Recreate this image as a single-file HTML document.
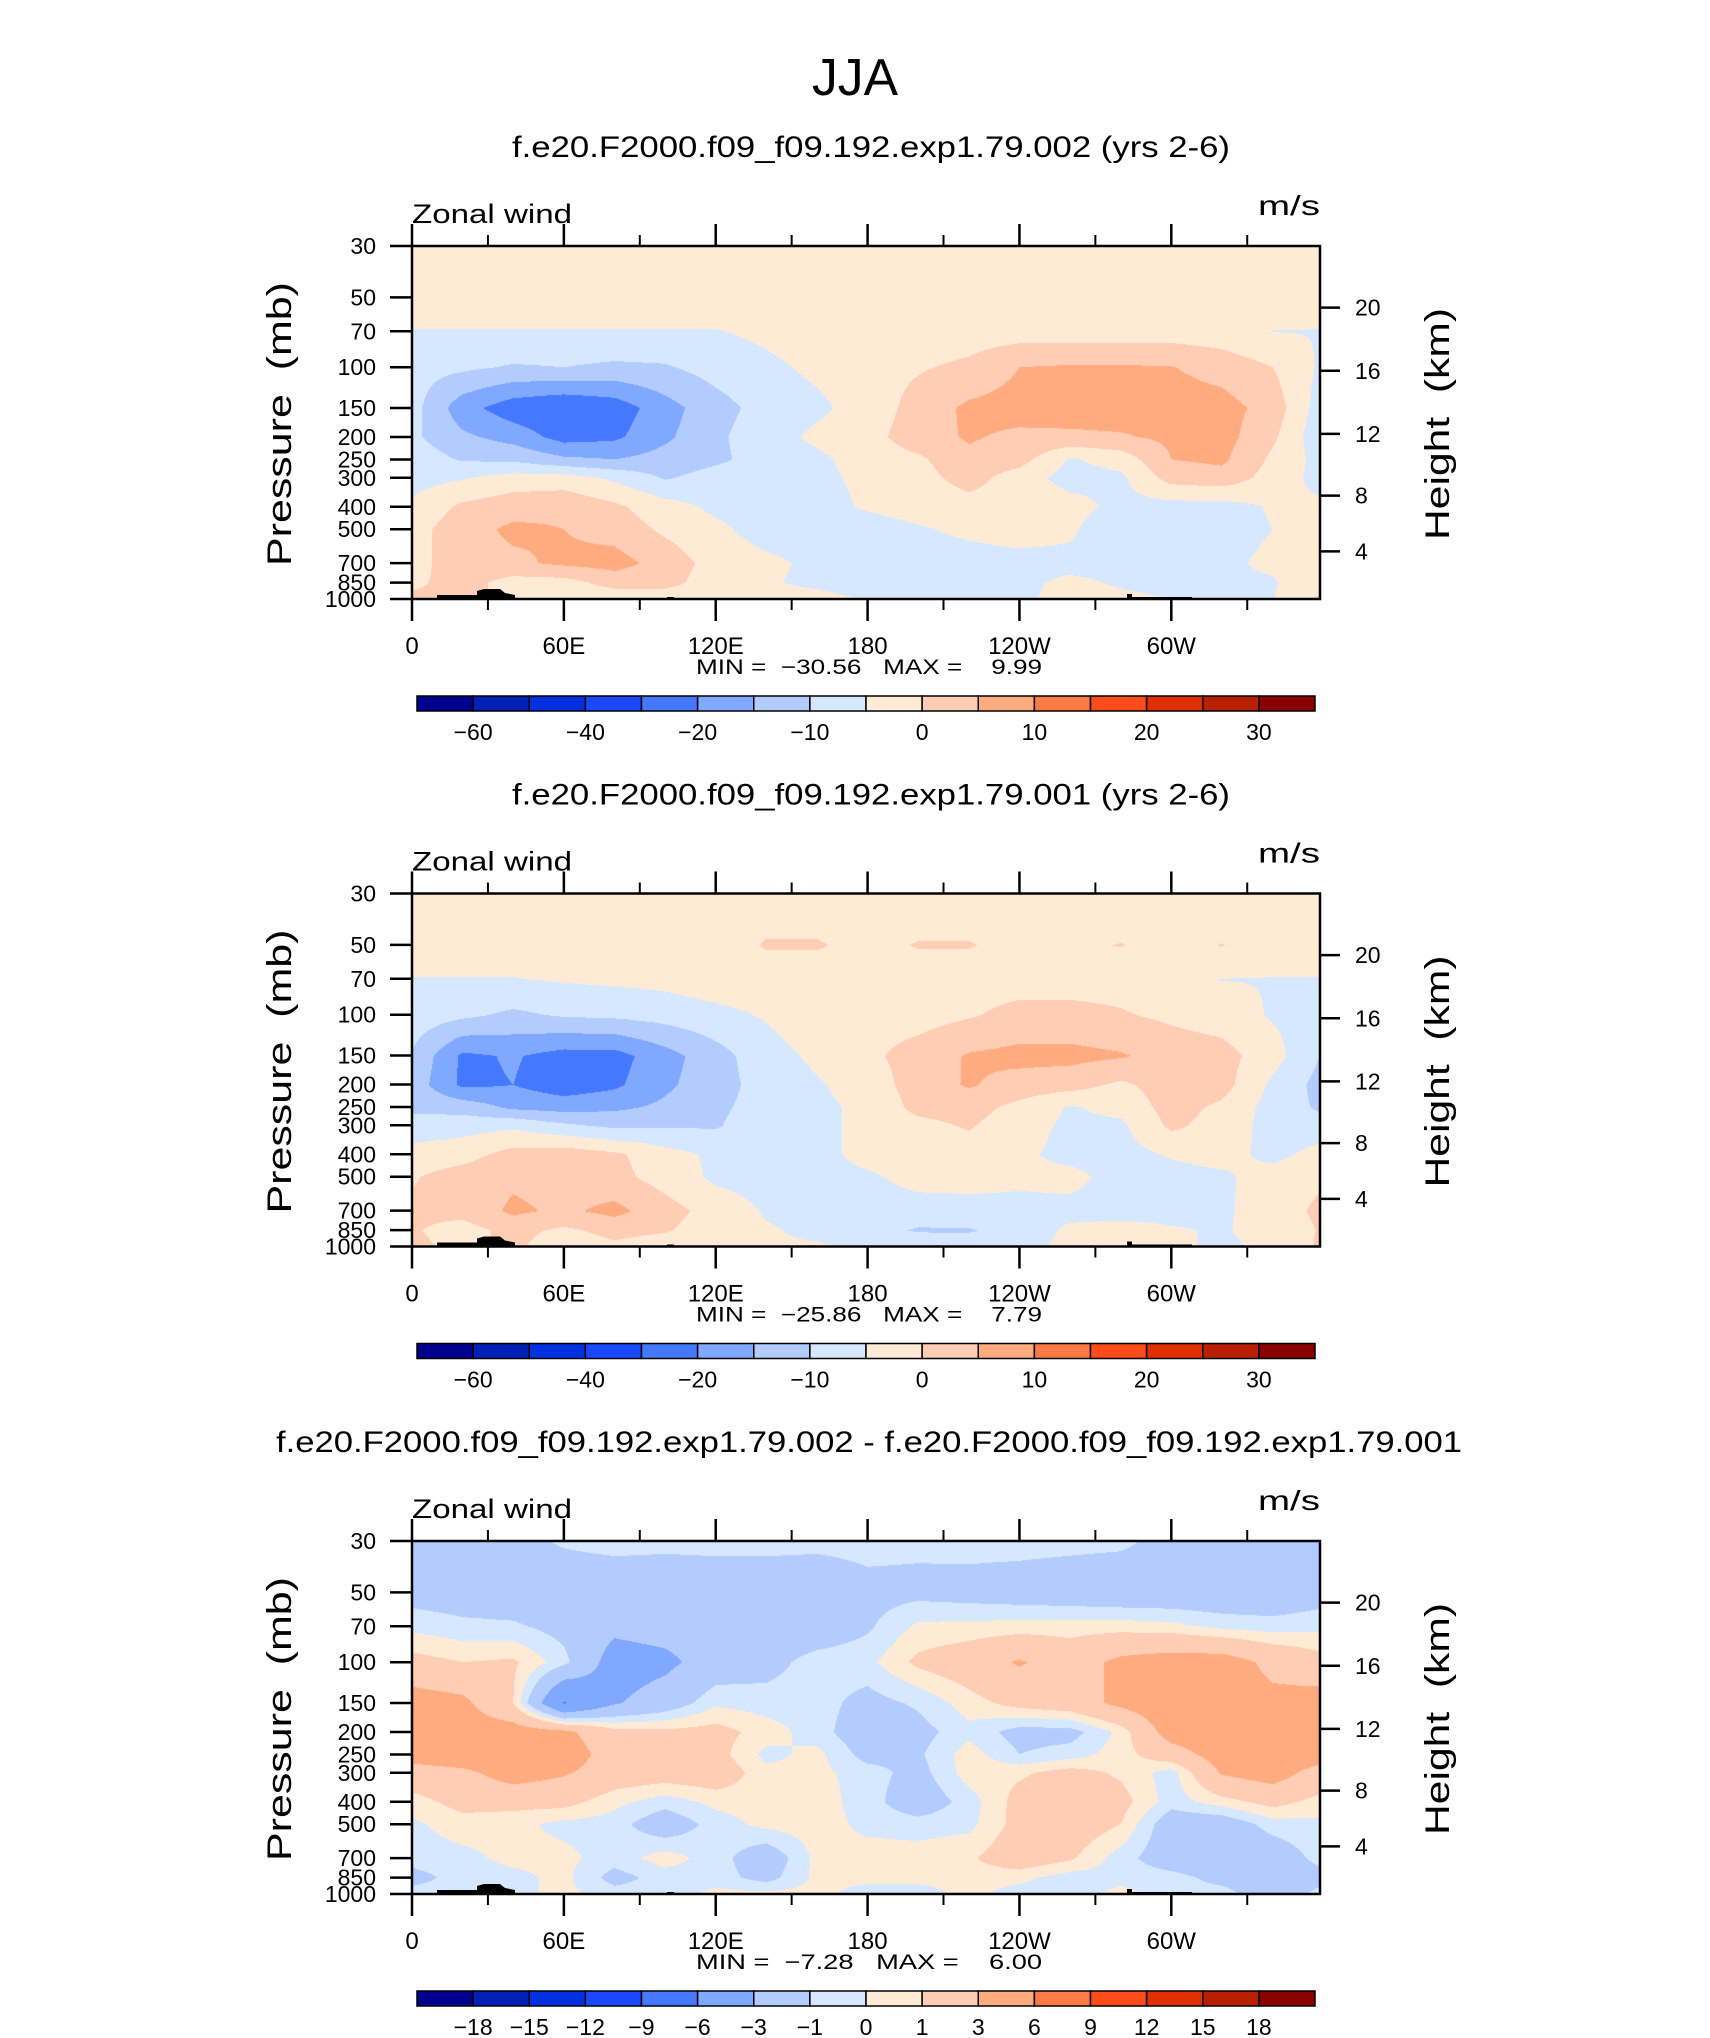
<!DOCTYPE html>
<html><head><meta charset="utf-8">
<style>
html,body{margin:0;padding:0;background:#fff;}
#root{position:relative;width:1710px;height:2038px;overflow:hidden;background:#fff;}
canvas{position:absolute;}
svg{position:absolute;left:0;top:0;}
text{font-family:"Liberation Sans",sans-serif;fill:#000;}
.pre{white-space:pre;}
</style></head>
<body>
<div id="root">
<canvas id="f0"></canvas>
<canvas id="f1"></canvas>
<canvas id="f2"></canvas>
<svg id="ov" width="1710" height="2038"></svg>
</div>
<script>
// ---- data ----
const gridLon = [0,20,40,60,80,100,120,140,160,180,200,220,240,260,280,300,320,340,360];
const pLevels = [30,50,70,100,150,200,250,300,400,500,700,850,1000];
const lonTickVals = [0,60,120,180,240,300];
const lonTickLabels = ['0','60E','120E','180','120W','60W'];
const lonMinorVals = [30,90,150,210,270,330];
const heightLabels = ['4','8','12','16','20'];
const heightPress = [622.8,357.9,194,103.6,55.3];
const colors = ['#00008f','#0020b8','#0030e0','#1a48ff','#4478ff','#80a8ff','#b3ccff','#d6e8ff','#ffead6','#ffcdb3','#ffab80','#ff7a45','#ff4c1a','#e03000','#b82000','#8b0000'];
const levelsAbs = [-60,-50,-40,-30,-20,-15,-10,-5,0,5,10,15,20,25,30];
const cbLabelsAbs = ['','−60','','−40','','−20','','−10','','0','','10','','20','','30'];
const levelsDiff = [-18,-15,-12,-9,-6,-3,-1,0,1,3,6,9,12,15,18];
const cbLabelsDiff = ['','−18','−15','−12','−9','−6','−3','−1','0','1','3','6','9','12','15','18'];
const titles = ['f.e20.F2000.f09_f09.192.exp1.79.002 (yrs 2-6)','f.e20.F2000.f09_f09.192.exp1.79.001 (yrs 2-6)','f.e20.F2000.f09_f09.192.exp1.79.002 - f.e20.F2000.f09_f09.192.exp1.79.001'];
const minVals = ['−30.56','−25.86','−7.28'];
const maxVals = ['9.99','7.79','6.00'];

const u1 = [
[-2,-2,-2,-2,-2,-2,-2,-2,-2,-2,-2,-2,-2,-2,-2,-2,-2,-2,-2],
[-2,-2,-2,-2,-2,-2,-2,-2,-2,-2,-2,-2,-2,-2,-2,-2,-2,-2,-2],
[-5.2,-5.2,-5.2,-5.2,-5.2,-5.2,-5.2,-4,-2.5,-2.5,-2.5,-2.5,-2.5,-2.5,-2.5,-2.5,-3,-5.1,-5.2],
[-8,-9,-10.5,-10,-11,-10.5,-8,-6,-4,-2,-0.5,1,5,5.5,5.5,5.2,3,0,-6],
[-8,-18,-23,-25,-23,-17,-12,-8,-6,-3,2,6,7,7.5,7.5,7.5,7,3,-8],
[-9,-14,-17,-22,-21,-16,-11,-7,-4,-2,3,5.5,4,4,4.5,6,7,1,-9],
[-7,-10.5,-11,-14,-15,-13,-11,-8,-6,-3,-1,4,2,-5.5,-3,5,6,-1,-7],
[-7,-5.5,-3,-3,-6,-10.5,-8,-7,-6,-4,-2,2,-2.5,-7,-6,2,3,-2,-7],
[-4,1,3,4,1,-3,-6,-7,-6.5,-4.5,-3,-2,-2,-3,-6.5,-7,-7,-4.5,-4],
[-2,3,6,5,3,-1,-4,-7,-7,-7,-5.5,-4,-3,-4,-9.5,-8.5,-7,-5,-2],
[-2,3,4,6,7,3,-2,-4,-6,-7,-7,-7,-6.5,-6.5,-7,-7,-6,-4,-2],
[-1,2,-2,-2,2,2,-3,-4.5,-6,-7.5,-9.8,-9.5,-6,-4,-5.5,-6.5,-6,-5.5,-1],
[1,1,-1,-3,-3.5,-3.5,-3.5,-3.5,-3.5,-5.2,-6,-6,-5.5,-4,-4,-5,-5.5,-5.2,1]
];
const u2 = [
[-2,-2,-2,-2,-2,-2,-2,-2,-2,-2,-2,-2,-2,-2,-2,-2,-2,-2,-2],
[-2,-2,-2,-2,-2,-2,-2,0.3,0.3,-1,0.2,0.2,-1,-0.5,0.1,-1,0.1,-2,-2],
[-5.2,-5.2,-5.2,-4.5,-4,-3.5,-2,-2,-2,-2,-2,-2,-2,-2,-2,-4,-5.1,-5.2,-5.2],
[-7,-9,-11,-9.5,-9,-8,-6.5,-4.5,-2,-2,-2,-0.5,1.5,1.5,0.5,-1,-2.5,-5.5,-7],
[-10.5,-21,-19.5,-22,-22,-17,-12,-7,-4,-1,2,5.5,6.5,6.5,5.5,3,2,-3,-10.5],
[-12,-21,-20,-23,-21,-16,-12,-8,-5.5,-3,2.5,5.5,3,2,-1,2.5,2,-6,-12],
[-11,-12,-16,-17,-16,-14,-11,-8,-6,-4,1.5,2,-1.5,-5.5,-3.5,2,-1,-7,-11],
[-8,-7,-6,-9,-11,-10.5,-10.5,-7,-6,-4,-1.5,0.5,-3,-6,-6,1,-2,-7,-8],
[-3,-2,2,3,1,-3,-6,-7,-7,-3,-2,-2.5,-4,-6.5,-7,-4.5,-3,-6.5,-3],
[-0.5,2.5,4,3,1.5,-2,-6,-7,-7,-6,-3,-3,-4,-3.5,-7,-7,-6,-2.5,-0.5],
[1,1.5,6,4,6.5,2,-2,-5.5,-7,-7.5,-7.5,-7,-6.5,-6.5,-7,-6.5,-6,-2,1],
[0.5,-2,1.5,-1,1.5,0.5,-3,-4.5,-6,-8,-10.5,-10.5,-8,-4,-3,-4.5,-5.5,-3,0.5],
[1,-1,1,-3,-1,-3,-4,-4.5,-4.5,-5.2,-6,-6.5,-6,-4,-1,-4,-6,-4,1]
];
const du = [
[-2,-2,-1.5,-0.8,-0.5,-0.6,-0.5,-0.5,-0.6,-0.5,-0.7,-0.5,-0.5,-0.6,-0.7,-1.5,-2,-2,-2],
[-1.6,-1.8,-2,-2.2,-2.2,-2.2,-2.2,-2.2,-2.2,-1.5,-1.4,-1.6,-1.8,-2,-2.2,-2.2,-2.2,-2.2,-1.6],
[-0.3,-0.7,-0.8,-1.5,-2.5,-2.2,-2,-2,-2,-1.2,0.2,0.3,0.4,0.5,0.5,0.3,-0.3,-0.5,-0.3],
[1.5,1,1.2,-0.6,-4,-3.5,-2,-1.5,-0.5,-0.3,1.3,2,3.2,2,3.5,4,4,2.5,1.5],
[4,3.5,1,-6.2,-3.2,-2,-0.2,-0.5,-0.5,-1.5,-0.8,0.5,1.5,2,3.5,4.5,4,3.5,4],
[4.5,4,4,3.5,1.5,1.3,1.5,0.5,-0.5,-2,-1.5,-0.3,-1.5,-1.5,0.3,4,4.5,4.5,4.5],
[4,4.5,4.5,4.2,2,2,1.5,-0.3,0.3,-1.5,-1.2,0.5,-1,-0.5,0.5,2,4,4.5,4],
[2,2.5,4,3.2,2,1.8,2,0.3,0.3,-0.5,-1.5,0.5,0.8,1.5,0.8,-0.5,3.2,4,2],
[0.5,1.5,1.5,1.5,0.3,-0.5,0.3,0.5,0.5,-0.5,-2,-0.5,1.5,2,1.5,-0.5,0.5,1.5,0.5],
[-0.2,0.5,0.3,-0.3,-0.5,-2,-0.5,0.3,0.5,-0.3,-0.5,-0.3,1.5,2,1,-2,-2,-0.5,-0.2],
[-0.5,-0.3,0.3,0.3,-0.5,0.5,-0.5,-2,0.3,0.5,0.5,0.8,2,1.2,-0.5,-2,-2.5,-2,-0.5],
[-1.5,-0.5,-0.3,0.3,-1.5,-0.5,-0.5,-1.5,0.3,0.3,0.3,0.5,0.3,-0.5,-0.3,-0.5,-1.5,-2,-1.5],
[-0.5,-0.5,-0.3,0.3,-0.5,-0.5,0.3,0.3,0.3,-0.5,-0.5,0.3,-0.5,-0.5,0.3,-0.5,-0.5,-2,-0.5]
];
const fields = [u1,u2,du];

// ---- layout ----
const L = 412, W = 908, H = 353, LONMAX = 358.75;
const panelTop = [246, 893.5, 1541];
const NS = 'http://www.w3.org/2000/svg';
const ov = document.getElementById('ov');
const lnP0 = Math.log(30), lnP1 = Math.log(1000);
function xOf(lon){ return L + lon / LONMAX * W; }
function yOf(p, T){ return T + (Math.log(p) - lnP0) / (lnP1 - lnP0) * H; }
function hex(c){ return [parseInt(c.substr(1,2),16),parseInt(c.substr(3,2),16),parseInt(c.substr(5,2),16)]; }
const rgb = colors.map(hex);
function mk(tag, attrs, parent){ const e=document.createElementNS(NS,tag); for(const k in attrs) e.setAttribute(k,attrs[k]); (parent||ov).appendChild(e); return e; }
function txt(s, attrs, parent){ const e=mk('text',attrs,parent); e.textContent=s; return e; }
function classify(v, levels){ let k=0; while(k<levels.length && v>=levels[k]) k++; return k; }
function sample(f, lon, lnp){
  let i = lon/20; if(i>=18) i=17.9999; const i0=Math.floor(i), fx=i-i0;
  let r=0; while(r<pLevels.length-2 && Math.log(pLevels[r+1])<lnp) r++;
  const a=Math.log(pLevels[r]), b=Math.log(pLevels[r+1]); let fy=(lnp-a)/(b-a); fy=Math.max(0,Math.min(1,fy));
  const v00=f[r][i0], v01=f[r][i0+1], v10=f[r+1][i0], v11=f[r+1][i0+1];
  return (v00*(1-fx)+v01*fx)*(1-fy)+(v10*(1-fx)+v11*fx)*fy;
}

const title = mk('text',{x:855,y:95,'text-anchor':'middle','font-size':52,'textLength':86,'lengthAdjust':'spacingAndGlyphs'});
title.textContent='JJA';



for(let pi=0; pi<3; pi++){
  const T = panelTop[pi], f = fields[pi];
  const levels = pi<2 ? levelsAbs : levelsDiff;
  const cbl = pi<2 ? cbLabelsAbs : cbLabelsDiff;
  const cv = document.getElementById('f'+pi);
  cv.width=W; cv.height=H; cv.style.left=L+'px'; cv.style.top=T+'px';
  const ctx=cv.getContext('2d'); const img=ctx.createImageData(W,H);
  for(let j=0;j<H;j++){
    const lnp = lnP0 + (j+0.5)/H*(lnP1-lnP0);
    for(let i=0;i<W;i++){
      const lon=(i+0.5)/W*LONMAX;
      const c=rgb[classify(sample(f,lon,lnp),levels)];
      const o=(j*W+i)*4; img.data[o]=c[0]; img.data[o+1]=c[1]; img.data[o+2]=c[2]; img.data[o+3]=255;
    }
  }
  ctx.putImageData(img,0,0);

  const g = mk('g',{});
  
  
  const terr = mk('path',{d:`M${L+25} ${T+H} L${L+25} ${T+H-4} L${L+65} ${T+H-4} L${L+65} ${T+H-8} L${L+72} ${T+H-10} L${L+88} ${T+H-10} L${L+93} ${T+H-6} L${L+103} ${T+H-4} L${L+103} ${T+H} Z M${L+715} ${T+H} L${L+715} ${T+H-5} L${L+720} ${T+H-5} L${L+720} ${T+H-2} L${L+780} ${T+H-2} L${L+780} ${T+H} Z M${L+255} ${T+H} L${L+255} ${T+H-2} L${L+262} ${T+H-2} L${L+262} ${T+H} Z`, fill:'#000'}, g);
  
  
  const fr = mk('rect',{x:L,y:T,width:W,height:H,fill:'none',stroke:'#000','stroke-width':2.5},g);
  
  
  lonTickVals.forEach((v,k)=>{
    const x=xOf(v);
    const t1=mk('line',{x1:x,y1:T,x2:x,y2:T-22,stroke:'#000','stroke-width':2.5},g);
    
    
    const t2=mk('line',{x1:x,y1:T+H,x2:x,y2:T+H+22,stroke:'#000','stroke-width':2.5},g);
    
    
    const lb=txt(lonTickLabels[k],{x:x,y:T+H+55,'text-anchor':'middle','font-size':24},g);
    
    
  });
  lonMinorVals.forEach(v=>{
    const x=xOf(v);
    const t1=mk('line',{x1:x,y1:T,x2:x,y2:T-11,stroke:'#000','stroke-width':2},g);
    
    
    const t2=mk('line',{x1:x,y1:T+H,x2:x,y2:T+H+11,stroke:'#000','stroke-width':2},g);
    
    
  });
  pLevels.forEach(p=>{
    const y=yOf(p,T);
    const t=mk('line',{x1:L,y1:y,x2:L-22,y2:y,stroke:'#000','stroke-width':2.5},g);
    
    
    const lb=txt(String(p),{x:376,y:y+8,'text-anchor':'end','font-size':23},g);
    
    
  });
  heightPress.forEach((p,k)=>{
    const y=yOf(p,T);
    const t=mk('line',{x1:L+W,y1:y,x2:L+W+20,y2:y,stroke:'#000','stroke-width':2.5},g);
    
    
    const lb=txt(heightLabels[k],{x:1355,y:y+8,'font-size':23},g);
    
    
  });
  const st = pi<2 ? txt(titles[pi],{x:871,y:T-89,'text-anchor':'middle','font-size':30,'textLength':718,'lengthAdjust':'spacingAndGlyphs'},g)
                  : txt(titles[pi],{x:869,y:T-89,'text-anchor':'middle','font-size':30,'textLength':1186,'lengthAdjust':'spacingAndGlyphs'},g);
  
  
  const zw=txt('Zonal wind',{x:L,y:T-23,'font-size':27,'textLength':160,'lengthAdjust':'spacingAndGlyphs'},g);
  
  
  const un=txt('m/s',{x:1320,y:T-31,'text-anchor':'end','font-size':28,'textLength':62,'lengthAdjust':'spacingAndGlyphs'},g);
  
  
  const pt=txt('Pressure  (mb)',{x:0,y:0,'text-anchor':'middle','font-size':34,'textLength':284,'lengthAdjust':'spacingAndGlyphs','class':'pre',transform:`translate(291,${T+178}) rotate(-90)`},g);
  
  
  const ht=txt('Height  (km)',{x:0,y:0,'text-anchor':'middle','font-size':34,'textLength':232,'lengthAdjust':'spacingAndGlyphs','class':'pre',transform:`translate(1449,${T+178}) rotate(-90)`},g);
  
  
  const mm=txt(`MIN =  ${minVals[pi]}   MAX =    ${maxVals[pi]}`,{x:869,y:T+H+75,'text-anchor':'middle','font-size':21,'textLength':346,'lengthAdjust':'spacingAndGlyphs','class':'pre'},g);
  
  
  const cbx=417, cbw=898, cby=T+450, cbh=15, bw=cbw/16;
  for(let k=0;k<16;k++){
    const r=mk('rect',{x:cbx+k*bw,y:cby,width:bw,height:cbh,fill:colors[k],stroke:'#000','stroke-width':1.5},g);
    
    
    if(cbl[k]){
      const lb=txt(cbl[k],{x:cbx+k*bw,y:cby+cbh+29,'text-anchor':'middle','font-size':23},g);
      
      
    }
  }
}
</script>
</body></html>
